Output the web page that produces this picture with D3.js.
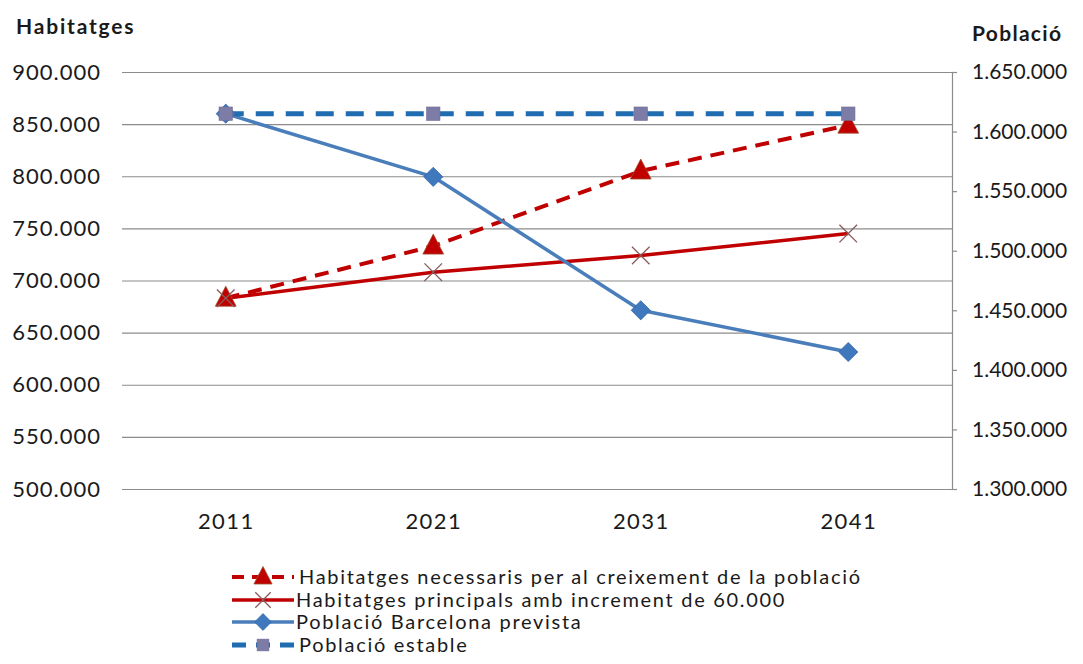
<!DOCTYPE html>
<html>
<head>
<meta charset="utf-8">
<script src="https://cdn.jsdelivr.net/npm/d3@7"></script>
<style>
  html, body { margin: 0; padding: 0; background: #fff; }
  svg { display: block; font-family: "Lato", "Open Sans", sans-serif; }
</style>
</head>
<body>
<svg id="chart" width="1083" height="664"></svg>
<script>
// data
const years = ["2011", "2021", "2031", "2041"];
const necessaris = [683000, 733000, 805000, 849000];   // left axis
const principals = [683000, 708000, 724000, 745000];   // left axis
const poblacioPrevista = [1615000, 1562000, 1450000, 1415000]; // right axis
const poblacioEstable = [1615000, 1615000, 1615000, 1615000];  // right axis
const leftTicks = [500000, 550000, 600000, 650000, 700000, 750000, 800000, 850000, 900000];
const rightTicks = [1300000, 1350000, 1400000, 1450000, 1500000, 1550000, 1600000, 1650000];
const legendLabels = [
  "Habitatges necessaris per al creixement de la població",
  "Habitatges principals amb increment de 60.000",
  "Població Barcelona prevista",
  "Població estable"
];

const svg = d3.select("#chart");
const margin = { top: 72, right: 131, bottom: 175, left: 122 };
const W = 1083, H = 664;

const locale = d3.formatLocale({ decimal: ",", thousands: ".", grouping: [3], currency: ["", "€"] });
const fmt = locale.format(",d");

const x = d3.scalePoint().domain(years).range([margin.left, W - margin.right]).padding(0.5);
const yL = d3.scaleLinear().domain([500000, 900000]).range([H - margin.bottom, margin.top]);
const yR = d3.scaleLinear().domain([1300000, 1650000]).range([H - margin.bottom, margin.top]);

const red = "#c00000";
const blue = "#4a7ebb";
const darkBlue = "#1f6cb0";
const textCol = "#1a1a1a";

// gridlines (left axis)
svg.append("g")
  .attr("transform", `translate(${margin.left},0)`)
  .call(d3.axisLeft(yL).tickValues(leftTicks).tickSize(-(W - margin.left - margin.right)).tickFormat(""))
  .call(g => g.select(".domain").remove())
  .call(g => g.selectAll("line").attr("stroke", "#8c8c8c").attr("stroke-width", 1.2));

// left tick labels
svg.append("g")
  .attr("transform", `translate(${margin.left},0)`)
  .call(d3.axisLeft(yL).tickValues(leftTicks).tickSize(0).tickPadding(21).tickFormat(fmt))
  .call(g => g.select(".domain").remove())
  .call(g => g.selectAll("text").attr("font-size", 22).attr("letter-spacing", 1.0)
    .attr("fill", textCol).attr("font-family", "Lato"));

// right axis
svg.append("g")
  .attr("transform", `translate(${W - margin.right},0)`)
  .call(d3.axisRight(yR).tickValues(rightTicks).tickSize(5).tickPadding(15).tickFormat(fmt))
  .call(g => g.select(".domain").attr("stroke", "#8c8c8c").attr("stroke-width", 1.2))
  .call(g => g.selectAll("line").attr("stroke", "#8c8c8c").attr("stroke-width", 1.2))
  .call(g => g.selectAll("text").attr("font-size", 21).attr("fill", textCol).attr("font-family", "Lato"));

// x labels
svg.append("g")
  .attr("transform", `translate(0,${H - margin.bottom})`)
  .call(d3.axisBottom(x).tickSize(0).tickPadding(24))
  .call(g => g.select(".domain").remove())
  .call(g => g.selectAll("text").attr("font-size", 22).attr("letter-spacing", 1.4)
    .attr("fill", textCol).attr("font-family", "Lato"));

// axis titles
svg.append("text").attr("x", 16).attr("y", 34)
  .attr("font-size", 21).attr("letter-spacing", 1.8).attr("font-weight", "bold").attr("fill", textCol).text("Habitatges");
svg.append("text").attr("x", 972).attr("y", 41)
  .attr("font-size", 21).attr("letter-spacing", 1.3).attr("font-weight", "bold").attr("fill", textCol).text("Població");

const series = [
  { name: legendLabels[0], values: necessaris, y: yL, color: red, width: 4, dash: "14,9", marker: "triangle", mColor: "#c00000" },
  { name: legendLabels[1], values: principals, y: yL, color: red, width: 3.5, dash: null, marker: "x", mColor: "#8a5a5a" },
  { name: legendLabels[2], values: poblacioPrevista, y: yR, color: blue, width: 3.5, dash: null, marker: "diamond", mColor: "#3f78bd" },
  { name: legendLabels[3], values: poblacioEstable, y: yR, color: darkBlue, width: 5, dash: "18,12", marker: "square", mColor: "#7d7ca6" }
];

function drawMarker(g, type, cx, cy, color, s) {
  if (type === "triangle") {
    g.append("path").attr("d", `M${cx},${cy - s * 0.75}L${cx + s * 0.65},${cy + s * 0.5}L${cx - s * 0.65},${cy + s * 0.5}Z`)
      .attr("fill", color).attr("stroke", "#a05030").attr("stroke-width", 0.8);
  } else if (type === "x") {
    const d = s * 0.55;
    g.append("path").attr("d", `M${cx - d},${cy - d}L${cx + d},${cy + d}M${cx - d},${cy + d}L${cx + d},${cy - d}`)
      .attr("stroke", color).attr("stroke-width", 1.3).attr("fill", "none");
  } else if (type === "diamond") {
    const d = s * 0.6;
    g.append("path").attr("d", `M${cx},${cy - d}L${cx + d},${cy}L${cx},${cy + d}L${cx - d},${cy}Z`)
      .attr("fill", color).attr("stroke", "#356aa8").attr("stroke-width", 0.8);
  } else if (type === "square") {
    const d = s * 0.42;
    g.append("rect").attr("x", cx - d).attr("y", cy - d).attr("width", 2 * d).attr("height", 2 * d)
      .attr("fill", color).attr("stroke", "#6e6d99").attr("stroke-width", 0.6);
  }
}

const line = d3.line();
const plot = svg.append("g");
series.forEach(s => {
  const pts = years.map((yr, i) => [x(yr), s.y(s.values[i])]);
  plot.append("path")
    .attr("d", line(pts))
    .attr("fill", "none")
    .attr("stroke", s.color)
    .attr("stroke-width", s.width)
    .attr("stroke-dasharray", s.dash)
    .attr("stroke-linejoin", "round");
});
// markers on top, drawn in series order
series.forEach(s => {
  const g = plot.append("g");
  years.forEach((yr, i) => drawMarker(g, s.marker, x(yr), s.y(s.values[i]), s.mColor, 16));
});

// legend
const legend = svg.append("g").attr("transform", "translate(232,0)");
const legendY = [577, 600, 622, 645];
series.forEach((s, i) => {
  const g = legend.append("g");
  const yy = legendY[i];
  g.append("line").attr("x1", 0).attr("x2", 62).attr("y1", yy).attr("y2", yy)
    .attr("stroke", s.color).attr("stroke-width", s.width)
    .attr("stroke-dasharray", s.dash ? (i === 0 ? "12,8" : "14,10") : null);
  drawMarker(g, s.marker, 31, yy, s.mColor, 14);
  g.append("text").attr("x", s.dash ? 67 : 64).attr("y", yy + 7)
    .attr("font-size", 20).attr("letter-spacing", 1.7).attr("fill", textCol).text(s.name);
});
</script>
</body>
</html>
